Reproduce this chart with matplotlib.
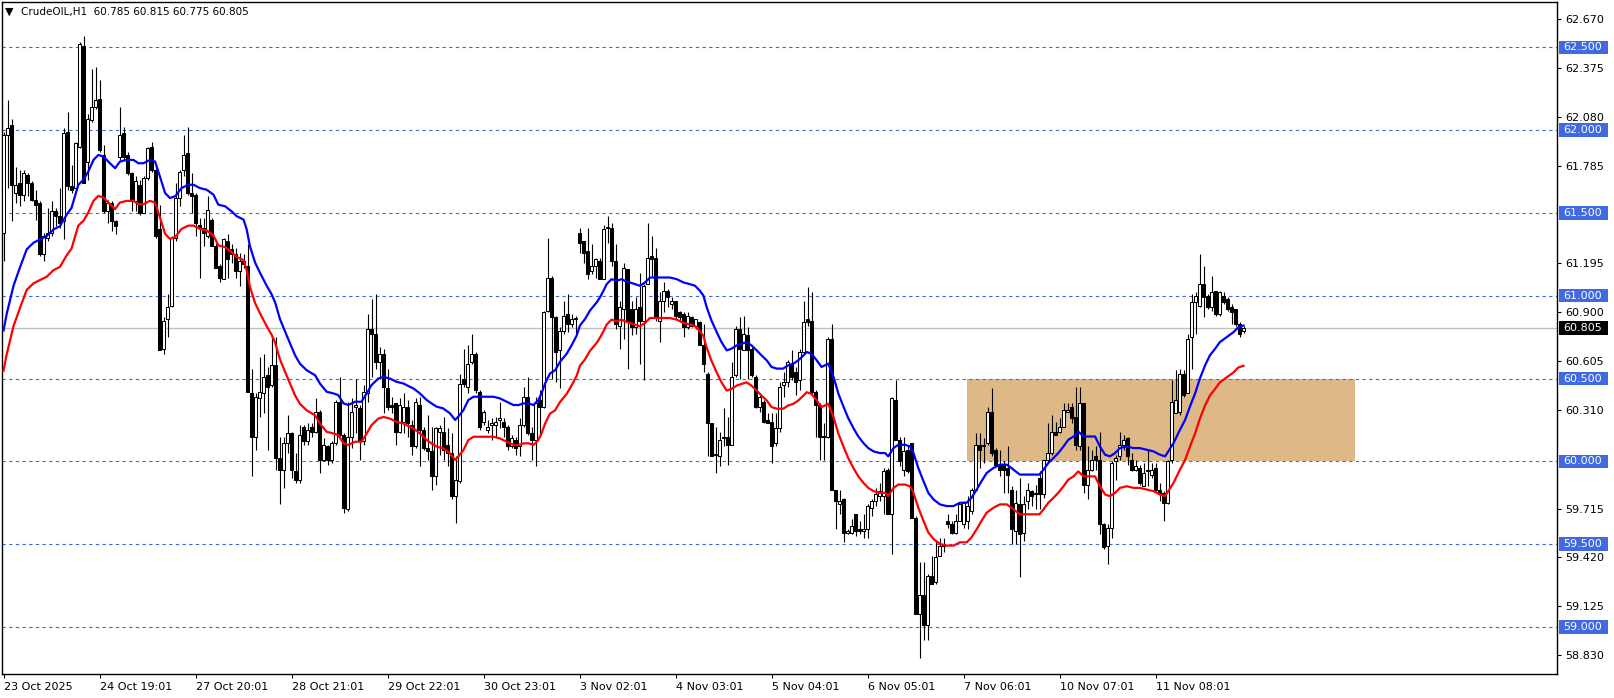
"""
CrudeOIL H1 candlestick chart with moving average and envelope line
"""

import matplotlib.pyplot as plt
import matplotlib.transforms as mtransforms
from matplotlib.patches import Rectangle
import numpy as np

# --- data: hourly candles ---
opens = [
    61.38, 61.97, 62.03, 61.62, 61.68, 61.61, 61.73, 61.68, 61.58, 61.56,
    61.25, 61.35, 61.38, 61.51, 61.48, 61.45, 61.99, 61.66, 61.65, 61.90,
    62.51, 61.81, 62.06, 62.14, 62.19, 61.85, 61.51, 61.56, 61.45, 61.84,
    61.98, 61.85, 61.74, 61.57, 61.67, 61.50, 61.71, 61.90, 61.76, 61.40,
    60.68, 60.86, 60.94, 61.35, 61.59, 61.76, 61.86, 61.62, 61.61, 61.43,
    61.41, 61.36, 61.46, 61.30, 61.18, 61.10, 61.33, 61.28, 61.25, 61.15,
    61.21, 61.18, 60.41, 60.15, 60.38, 60.41, 60.52, 60.46, 60.58, 60.02,
    59.95, 60.11, 60.17, 59.94, 59.89, 60.21, 60.12, 60.21, 60.18, 60.30,
    60.01, 60.09, 60.01, 60.11, 60.36, 60.16, 59.71, 60.15, 60.33, 60.32,
    60.12, 60.41, 60.80, 60.77, 60.60, 60.65, 60.44, 60.34, 60.35, 60.18,
    60.24, 60.33, 60.22, 60.09, 60.34, 60.19, 60.08, 60.06, 59.91, 60.18,
    60.18, 60.10, 60.05, 59.79, 59.88, 60.50, 60.45, 60.60, 60.65, 60.42,
    60.24, 60.19, 60.22, 60.22, 60.25, 60.24, 60.21, 60.09, 60.13, 60.09,
    60.22, 60.39, 60.17, 60.13, 60.37, 60.33, 60.91, 61.11, 60.87, 60.67,
    60.79, 60.89, 60.83, 60.86, 61.38, 61.33, 61.27, 61.15, 61.18, 61.21,
    61.10, 61.41, 61.41, 61.21, 60.82, 60.92, 61.16, 60.92, 60.81, 60.93,
    60.85, 61.07, 61.24, 61.23, 60.85, 60.97, 61.03, 60.95, 60.97, 60.90,
    60.89, 60.81, 60.87, 60.82, 60.84, 60.70, 60.53, 60.23, 60.04, 60.03,
    60.14, 60.15, 60.10, 60.52, 60.80, 60.67, 60.76, 60.68, 60.51, 60.33,
    60.36, 60.25, 60.24, 60.11, 60.20, 60.46, 60.48, 60.59, 60.54, 60.49,
    60.66, 60.86, 60.85, 60.42, 60.34, 60.15, 60.15, 60.74, 59.83, 59.74,
    59.77, 59.57, 59.57, 59.68, 59.59, 59.58, 59.59, 59.72, 59.76, 59.79,
    59.79, 59.95, 59.68, 60.37, 60.13, 59.95, 60.07, 60.11, 59.66, 59.08,
    59.19, 59.01, 59.31, 59.27, 59.43, 59.49, 59.64, 59.62, 59.57, 59.64,
    59.62, 59.64, 59.70, 59.83, 60.10, 60.09, 60.11, 60.30, 60.07, 59.98,
    59.98, 59.96, 59.83, 59.58, 59.74, 59.57, 59.76, 59.82, 59.81, 59.90,
    59.80, 60.01, 60.05, 60.18, 60.18, 60.21, 60.30, 60.33, 60.27, 60.09,
    60.35, 59.86, 59.95, 60.03, 60.01, 59.62, 59.49, 59.60, 60.00, 60.03,
    60.10, 60.14, 60.01, 59.95, 59.96, 59.85, 59.95, 59.92, 59.96, 59.83,
    59.81, 59.75, 60.01, 60.29, 60.30, 60.53, 60.41, 60.75, 60.96, 60.94,
    61.07, 61.00, 60.93, 61.03, 60.89, 61.00, 60.98, 60.93, 60.92, 60.83,
    60.785,
]
highs = [
    61.99, 62.18, 62.07, 61.78, 61.76, 61.76, 61.74, 61.69, 61.64, 61.57,
    61.38, 61.53, 61.57, 61.53, 61.65, 62.01, 62.11, 61.79, 61.93, 62.53,
    62.57, 62.10, 62.37, 62.38, 62.30, 61.91, 61.58, 61.57, 61.46, 62.14,
    62.02, 61.87, 61.75, 61.72, 61.70, 61.72, 61.90, 61.93, 61.77, 61.55,
    60.87, 61.01, 61.36, 61.68, 61.76, 61.97, 62.02, 61.74, 61.62, 61.47,
    61.47, 61.60, 61.47, 61.32, 61.19, 61.35, 61.37, 61.31, 61.29, 61.26,
    61.25, 61.31, 60.56, 60.41, 60.63, 60.65, 60.57, 60.75, 60.75, 60.15,
    60.15, 60.28, 60.18, 60.05, 60.22, 60.22, 60.23, 60.23, 60.38, 60.31,
    60.14, 60.10, 60.12, 60.37, 60.51, 60.17, 60.36, 60.38, 60.50, 60.34,
    60.46, 60.89, 60.98, 61.01, 60.69, 60.68, 60.56, 60.39, 60.35, 60.38,
    60.41, 60.37, 60.25, 60.38, 60.39, 60.21, 60.28, 60.21, 60.21, 60.22,
    60.27, 60.20, 60.17, 60.03, 60.53, 60.68, 60.70, 60.77, 60.66, 60.43,
    60.31, 60.25, 60.26, 60.27, 60.36, 60.26, 60.22, 60.16, 60.15, 60.26,
    60.45, 60.51, 60.21, 60.39, 60.43, 60.91, 61.35, 61.12, 60.88, 60.81,
    60.97, 61.01, 60.89, 60.88, 61.41, 61.33, 61.41, 61.31, 61.23, 61.23,
    61.43, 61.48, 61.44, 61.31, 60.97, 61.20, 61.16, 60.97, 60.99, 61.14,
    61.07, 61.44, 61.36, 61.29, 61.02, 61.08, 61.04, 60.99, 60.97, 60.91,
    60.90, 60.90, 60.88, 60.86, 60.85, 60.83, 60.54, 60.23, 60.21, 60.18,
    60.32, 60.27, 60.60, 60.82, 60.87, 60.88, 60.81, 60.69, 60.52, 60.41,
    60.37, 60.29, 60.29, 60.29, 60.48, 60.54, 60.61, 60.67, 60.57, 60.68,
    60.97, 61.05, 61.02, 60.43, 60.35, 60.23, 60.75, 60.83, 59.83, 59.83,
    59.78, 59.59, 59.65, 59.68, 59.64, 59.68, 59.74, 59.77, 59.84, 59.87,
    59.96, 59.96, 60.39, 60.49, 60.15, 60.15, 60.09, 60.11, 59.67, 59.39,
    59.39, 59.32, 59.43, 59.52, 59.54, 59.54, 59.68, 59.64, 59.68, 59.74,
    59.76, 59.79, 59.84, 60.17, 60.17, 60.14, 60.33, 60.44, 60.08, 60.07,
    60.00, 60.09, 59.85, 59.83, 59.90, 59.79, 59.87, 59.83, 59.86, 59.94,
    60.01, 60.23, 60.28, 60.24, 60.26, 60.35, 60.35, 60.35, 60.45, 60.45,
    60.35, 60.09, 60.07, 60.09, 60.18, 59.63, 59.62, 60.00, 60.04, 60.18,
    60.16, 60.15, 60.05, 60.01, 59.98, 59.99, 60.07, 59.99, 59.99, 59.87,
    59.82, 60.01, 60.49, 60.55, 60.56, 60.55, 60.77, 61.01, 61.02, 61.25,
    61.18, 61.01, 61.12, 61.03, 61.03, 61.02, 60.99, 60.95, 60.92, 60.84,
    60.815,
]
lows = [
    61.21, 61.65, 61.45, 61.56, 61.54, 61.57, 61.60, 61.57, 61.46, 61.24,
    61.21, 61.33, 61.36, 61.42, 61.41, 61.34, 61.64, 61.62, 61.64, 61.89,
    61.68, 61.70, 62.05, 62.13, 61.87, 61.50, 61.44, 61.39, 61.37, 61.82,
    61.82, 61.73, 61.51, 61.51, 61.49, 61.50, 61.70, 61.75, 61.35, 60.67,
    60.65, 60.75, 60.93, 61.33, 61.54, 61.72, 61.61, 61.50, 61.36, 61.11,
    61.30, 61.35, 61.30, 61.17, 61.08, 61.10, 61.11, 61.20, 61.11, 61.06,
    61.17, 60.42, 59.91, 60.07, 60.27, 60.29, 60.07, 60.45, 59.95, 59.74,
    59.84, 60.05, 59.90, 59.87, 59.87, 60.10, 60.10, 60.15, 60.17, 59.93,
    60.00, 59.98, 59.99, 60.10, 60.15, 59.69, 59.70, 60.08, 60.17, 60.01,
    60.10, 60.36, 60.51, 60.56, 60.50, 60.29, 60.31, 60.29, 60.10, 60.17,
    60.17, 60.15, 60.04, 60.08, 59.97, 60.07, 60.01, 59.83, 59.86, 60.04,
    60.01, 59.97, 59.77, 59.63, 59.87, 60.45, 60.41, 60.59, 60.41, 60.19,
    60.22, 60.17, 60.13, 60.15, 60.20, 60.15, 60.07, 60.08, 60.04, 60.03,
    60.21, 60.16, 60.01, 59.97, 60.15, 60.32, 60.90, 60.50, 60.48, 60.44,
    60.77, 60.78, 60.81, 60.77, 61.26, 61.20, 61.10, 61.13, 61.11, 61.10,
    61.10, 61.32, 61.18, 60.80, 60.68, 60.74, 60.56, 60.76, 60.77, 60.59,
    60.49, 61.07, 61.12, 60.85, 60.72, 60.90, 60.93, 60.92, 60.86, 60.85,
    60.75, 60.80, 60.81, 60.80, 60.70, 60.54, 60.03, 60.03, 59.93, 59.97,
    60.09, 59.98, 60.10, 60.51, 60.50, 60.67, 60.50, 60.51, 60.32, 60.30,
    60.23, 60.23, 59.99, 60.09, 60.18, 60.39, 60.45, 60.49, 60.40, 60.43,
    60.66, 60.82, 60.40, 60.15, 60.01, 60.01, 60.14, 59.83, 59.59, 59.68,
    59.51, 59.56, 59.56, 59.55, 59.56, 59.54, 59.54, 59.67, 59.73, 59.76,
    59.68, 59.68, 59.44, 60.13, 59.97, 59.91, 59.93, 59.66, 59.08, 58.81,
    58.92, 58.92, 59.26, 59.26, 59.43, 59.45, 59.60, 59.56, 59.56, 59.64,
    59.60, 59.59, 59.68, 59.83, 59.96, 59.99, 60.10, 60.03, 59.97, 59.91,
    59.81, 59.81, 59.50, 59.50, 59.30, 59.52, 59.71, 59.73, 59.71, 59.71,
    59.78, 59.99, 60.04, 60.16, 60.17, 60.21, 60.30, 60.23, 60.07, 60.07,
    59.81, 59.77, 59.94, 59.95, 59.56, 59.47, 59.38, 59.54, 59.89, 60.01,
    60.07, 59.98, 59.94, 59.94, 59.86, 59.85, 59.85, 59.90, 59.82, 59.76,
    59.64, 59.74, 59.99, 60.29, 60.28, 60.39, 60.41, 60.56, 60.77, 60.93,
    60.87, 60.92, 60.91, 60.88, 60.88, 60.95, 60.91, 60.83, 60.82, 60.75,
    60.775,
]
closes = [
    61.97, 62.01, 61.67, 61.67, 61.61, 61.74, 61.68, 61.58, 61.55, 61.25,
    61.36, 61.38, 61.51, 61.48, 61.44, 61.98, 61.66, 61.64, 61.92, 62.52,
    61.68, 62.07, 62.14, 62.18, 61.88, 61.51, 61.56, 61.45, 61.42, 61.97,
    61.84, 61.74, 61.57, 61.69, 61.50, 61.71, 61.89, 61.76, 61.36, 60.67,
    60.85, 60.93, 61.35, 61.59, 61.75, 61.85, 61.62, 61.60, 61.44, 61.41,
    61.38, 61.52, 61.30, 61.17, 61.11, 61.34, 61.22, 61.25, 61.15, 61.21,
    61.19, 60.42, 60.15, 60.39, 60.42, 60.51, 60.45, 60.58, 60.02, 59.95,
    60.11, 60.17, 59.95, 59.89, 60.16, 60.12, 60.19, 60.18, 60.30, 60.01,
    60.10, 60.01, 60.11, 60.36, 60.16, 59.72, 60.15, 60.30, 60.34, 60.12,
    60.42, 60.80, 60.77, 60.60, 60.65, 60.45, 60.33, 60.33, 60.18, 60.34,
    60.33, 60.23, 60.09, 60.36, 60.19, 60.08, 60.06, 59.91, 60.20, 60.20,
    60.07, 60.05, 59.79, 59.89, 60.47, 60.47, 60.59, 60.65, 60.43, 60.21,
    60.30, 60.21, 60.23, 60.24, 60.26, 60.21, 60.09, 60.14, 60.08, 60.22,
    60.39, 60.17, 60.13, 60.35, 60.33, 60.90, 61.11, 60.87, 60.66, 60.79,
    60.88, 60.83, 60.86, 60.86, 61.32, 61.26, 61.13, 61.18, 61.22, 61.10,
    61.40, 61.41, 61.21, 60.83, 60.93, 61.17, 60.84, 60.81, 60.92, 60.85,
    61.06, 61.23, 61.22, 60.87, 60.97, 61.03, 60.99, 60.97, 60.88, 60.87,
    60.81, 60.88, 60.82, 60.86, 60.70, 60.59, 60.23, 60.03, 60.04, 60.13,
    60.15, 60.10, 60.51, 60.80, 60.68, 60.77, 60.67, 60.52, 60.33, 60.39,
    60.24, 60.23, 60.09, 60.20, 60.45, 60.48, 60.60, 60.51, 60.48, 60.66,
    60.84, 60.84, 60.42, 60.34, 60.15, 60.15, 60.74, 59.83, 59.76, 59.76,
    59.57, 59.58, 59.61, 59.58, 59.58, 59.59, 59.73, 59.76, 59.80, 59.82,
    59.94, 59.68, 60.38, 60.13, 60.00, 60.06, 59.94, 59.66, 59.08, 59.19,
    59.01, 59.31, 59.26, 59.42, 59.49, 59.50, 59.62, 59.57, 59.64, 59.74,
    59.75, 59.73, 59.83, 60.10, 60.07, 60.10, 60.30, 60.05, 59.98, 59.95,
    59.95, 59.92, 59.59, 59.75, 59.56, 59.74, 59.83, 59.79, 59.80, 59.80,
    60.01, 60.05, 60.18, 60.16, 60.21, 60.31, 60.31, 60.26, 60.10, 60.35,
    59.86, 59.95, 60.01, 60.01, 59.62, 59.48, 59.60, 59.99, 60.02, 60.10,
    60.13, 60.03, 59.95, 59.97, 59.87, 59.93, 59.94, 59.95, 59.83, 59.80,
    59.75, 60.00, 60.36, 60.37, 60.53, 60.40, 60.74, 60.96, 61.00, 61.07,
    60.99, 60.93, 61.02, 60.89, 61.02, 60.96, 60.92, 60.90, 60.83, 60.77,
    60.805,
]

# blue moving average (bar position, price)
ma_bars = [
    0.0, 0.8, 2.5, 4.1, 5.8, 7.5, 9.1, 10.8, 12.5, 14.1,
    15.8, 17.0, 18.7, 20.0, 21.2, 22.5, 23.7, 25.0, 26.6, 27.9,
    29.1, 30.8, 32.5, 33.7, 35.0, 36.6, 37.9, 39.1, 40.4, 41.6,
    42.9, 44.5, 46.2, 47.5, 49.1, 50.8, 52.5, 53.7, 55.4, 57.0,
    58.3, 60.0, 60.8, 61.6, 62.9, 64.1, 65.8, 67.0, 67.9, 69.1,
    70.8, 72.9, 74.1, 75.8, 77.9, 79.1, 80.8, 82.5, 83.7, 85.0,
    86.2, 87.9, 89.5, 90.8, 92.0, 93.7, 95.0, 96.6, 98.3, 100.0,
    101.6, 102.5, 104.1, 105.8, 107.0, 108.3, 109.9, 111.6, 112.9, 113.7,
    115.0, 116.2, 117.5, 119.1, 120.8, 122.5, 124.1, 125.8, 127.5, 128.8,
    130.0, 131.3, 132.5, 133.7, 134.5, 135.4, 136.6, 137.9, 139.1, 140.8,
    142.0, 143.3, 144.1, 145.4, 146.6, 148.3, 149.1, 150.0, 150.8, 152.0,
    153.3, 154.5, 155.4, 156.6, 157.9, 159.1, 160.4, 161.6, 162.9, 164.5,
    166.6, 168.3, 170.0, 171.6, 172.9, 174.1, 175.0, 175.8, 177.0, 178.3,
    179.5, 180.8, 182.0, 183.3, 184.5, 185.8, 187.0, 188.3, 189.5, 190.8,
    192.0, 193.3, 194.9, 196.2, 197.5, 198.7, 200.0, 200.8, 202.0, 203.3,
    204.5, 205.4, 206.2, 207.5, 208.7, 210.0, 211.2, 212.5, 213.7, 215.0,
    216.2, 217.5, 219.1, 220.4, 221.2, 222.5, 223.7, 225.4, 226.6, 227.5,
    228.7, 230.0, 231.2, 232.5, 234.1, 235.8, 237.5, 239.1, 240.8, 242.0,
    243.3, 244.5, 245.8, 247.5, 249.1, 250.8, 252.0, 253.0, 254.1, 255.8,
    257.5, 259.0, 260.0, 261.2, 262.5, 263.7, 265.0, 266.2, 267.5, 268.7,
    270.0, 271.2, 272.9, 274.1, 275.4, 276.6, 277.9, 279.1, 280.8, 282.5,
    284.1, 285.8, 287.5, 289.1, 290.4, 291.2, 292.5, 294.1, 295.4, 296.6,
    297.9, 299.1, 300.4, 301.6, 302.9, 304.1, 305.8, 307.5, 308.7, 310.0,
]
ma_values = [
    60.79, 60.89, 61.06, 61.17, 61.28, 61.32, 61.34, 61.36, 61.40, 61.42,
    61.49, 61.53, 61.67, 61.70, 61.75, 61.82, 61.85, 61.84, 61.80, 61.77,
    61.81, 61.82, 61.82, 61.80, 61.80, 61.82, 61.81, 61.72, 61.62, 61.59,
    61.60, 61.65, 61.67, 61.67, 61.65, 61.64, 61.61, 61.55, 61.54, 61.51,
    61.48, 61.46, 61.40, 61.30, 61.20, 61.14, 61.06, 61.01, 60.96, 60.86,
    60.76, 60.64, 60.59, 60.55, 60.52, 60.47, 60.42, 60.41, 60.40, 60.35,
    60.34, 60.36, 60.36, 60.41, 60.46, 60.50, 60.51, 60.50, 60.48, 60.47,
    60.45, 60.44, 60.41, 60.37, 60.35, 60.33, 60.32, 60.29, 60.25, 60.27,
    60.31, 60.37, 60.39, 60.39, 60.39, 60.39, 60.38, 60.36, 60.34, 60.34,
    60.35, 60.35, 60.34, 60.37, 60.41, 60.47, 60.53, 60.55, 60.60, 60.65,
    60.70, 60.76, 60.82, 60.86, 60.91, 60.96, 60.99, 61.03, 61.07, 61.10,
    61.09, 61.10, 61.09, 61.08, 61.07, 61.06, 61.08, 61.11, 61.11, 61.11,
    61.11, 61.10, 61.08, 61.07, 61.06, 61.03, 61.00, 60.93, 60.85, 60.78,
    60.72, 60.67, 60.68, 60.70, 60.71, 60.72, 60.70, 60.67, 60.64, 60.61,
    60.57, 60.56, 60.56, 60.58, 60.59, 60.61, 60.64, 60.66, 60.65, 60.61,
    60.57, 60.58, 60.59, 60.51, 60.41, 60.33, 60.26, 60.20, 60.15, 60.11,
    60.08, 60.06, 60.05, 60.05, 60.03, 60.08, 60.10, 60.10, 60.09, 60.05,
    59.96, 59.88, 59.81, 59.77, 59.74, 59.73, 59.73, 59.75, 59.75, 59.78,
    59.83, 59.88, 59.93, 59.96, 59.98, 59.98, 59.96, 59.94, 59.92, 59.92,
    59.92, 59.92, 59.95, 59.99, 60.02, 60.05, 60.09, 60.13, 60.15, 60.18,
    60.15, 60.15, 60.15, 60.09, 60.04, 60.03, 60.05, 60.08, 60.09, 60.08,
    60.08, 60.07, 60.06, 60.04, 60.03, 60.06, 60.11, 60.19, 60.25, 60.33,
    60.41, 60.50, 60.58, 60.64, 60.68, 60.72, 60.75, 60.78, 60.81, 60.82,
]
envelope_dev = 0.004  # red line: lower envelope, 0.4 % under the average

level_lines = [59.0, 59.5, 60.0, 60.5, 61.0, 61.5, 62.0, 62.5]
price_ticks = [62.670, 62.375, 62.080, 61.785, 61.195, 60.900,
               60.605, 60.310, 59.715, 59.420, 59.125, 58.830]
last_price = 60.805

time_tick_bars = [0, 24, 48, 72, 96, 120, 144, 168, 192, 216, 240, 264, 288]
time_tick_labels = ['23 Oct 2025', '24 Oct 19:01', '27 Oct 20:01', '28 Oct 21:01',
                    '29 Oct 22:01', '30 Oct 23:01', '3 Nov 02:01', '4 Nov 03:01',
                    '5 Nov 04:01', '6 Nov 05:01', '7 Nov 06:01', '10 Nov 07:01',
                    '11 Nov 08:01']

zone_start_bar = 240.8
zone_end_bar = 337.8
zone_low = 60.0
zone_high = 60.5

title_text = 'CrudeOIL,H1  60.785 60.815 60.775 60.805'

LEVEL_BLUE = '#4169E1'
ZONE_COLOR = '#DEB887'


def draw_candles(ax, o, h, l, c):
    x = np.arange(len(c))
    o = np.array(o)
    h = np.array(h)
    l = np.array(l)
    c = np.array(c)
    bull = c >= o
    bottoms = np.minimum(o, c)
    heights = np.maximum(np.abs(c - o), 0.004)
    faces = np.where(bull, 'white', 'black')
    # wicks first, bodies on top so hollow bodies hide them
    ax.vlines(x, l, h, color='black', linewidth=0.8, zorder=3)
    ax.bar(x, heights, bottom=bottoms, width=0.55, color=faces,
           edgecolor='black', linewidth=0.75, zorder=4)


def main():
    W, H = 1614, 698
    fig = plt.figure(figsize=(W / 100, H / 100), dpi=100)
    left, right, top, bottom = 2, 1557, 2, 674
    ax = fig.add_axes([left / W, (H - bottom) / H, (right - left) / W, (bottom - top) / H])

    # shaded zone behind everything
    ax.add_patch(Rectangle((zone_start_bar, zone_low), zone_end_bar - zone_start_bar,
                           zone_high - zone_low, facecolor=ZONE_COLOR,
                           edgecolor='none', zorder=1))

    for lv in level_lines:
        ax.axhline(lv, color=LEVEL_BLUE, linestyle=(0, (3, 3)), linewidth=0.8, zorder=2)
    ax.axhline(last_price, color='#C0C0C0', linewidth=1.0, zorder=2)

    draw_candles(ax, opens, highs, lows, closes)

    # moving average + lower envelope
    ma = np.array(ma_values)
    ax.plot(ma_bars, ma, color='#0000FF', linewidth=1.6, zorder=5)
    ax.plot(ma_bars, ma * (1 - envelope_dev), color='#FF0000', linewidth=1.6, zorder=5)

    px_per_bar = 4.0
    first_bar_px = 3.5
    ax.set_xlim((left - first_bar_px) / px_per_bar, (right - first_bar_px) / px_per_bar)
    ax.set_ylim(58.716, 62.7735)

    # axes look
    for s in ax.spines.values():
        s.set_color('black')
        s.set_linewidth(1.0)
    ax.yaxis.tick_right()
    ax.set_yticks(price_ticks)
    ax.set_yticklabels([f'{v:.3f}' for v in price_ticks])
    ax.tick_params(axis='y', direction='out', length=3, width=0.8, pad=3,
                   labelsize=8, colors='black')
    ax.set_xticks(time_tick_bars)
    ax.set_xticklabels(time_tick_labels, ha='left')
    ax.tick_params(axis='x', direction='out', length=3, width=0.8, pad=3,
                   labelsize=8, colors='black')

    # price labels on the right axis
    trans = mtransforms.blended_transform_factory(ax.transAxes, ax.transData)
    box_x0 = (1559 - left) / (right - left)
    box_w = 49 / (right - left)
    box_h = 13.4 / 165.6
    text_x = (1563 - left) / (right - left)
    for lv in level_lines:
        ax.add_patch(Rectangle((box_x0, lv - box_h / 2), box_w, box_h, transform=trans,
                               facecolor=LEVEL_BLUE, edgecolor='none', clip_on=False, zorder=6))
        ax.text(text_x, lv, f'{lv:.3f}', transform=trans, color='white', fontsize=8,
                va='center', ha='left', clip_on=False, zorder=7)
    ax.add_patch(Rectangle((box_x0, last_price - box_h / 2), box_w, box_h, transform=trans,
                           facecolor='black', edgecolor='none', clip_on=False, zorder=6))
    ax.text(text_x, last_price, f'{last_price:.3f}', transform=trans, color='white',
            fontsize=8, va='center', ha='left', clip_on=False, zorder=7)

    # header
    fig.text(5 / W, 1 - 12 / H, '▼', fontsize=8, color='black', va='center', ha='left')
    fig.text(21 / W, 1 - 12 / H, title_text, fontsize=7.5, color='black', va='center', ha='left')

    fig.savefig('out.png', dpi=100, facecolor='white')


if __name__ == "__main__":
    main()
